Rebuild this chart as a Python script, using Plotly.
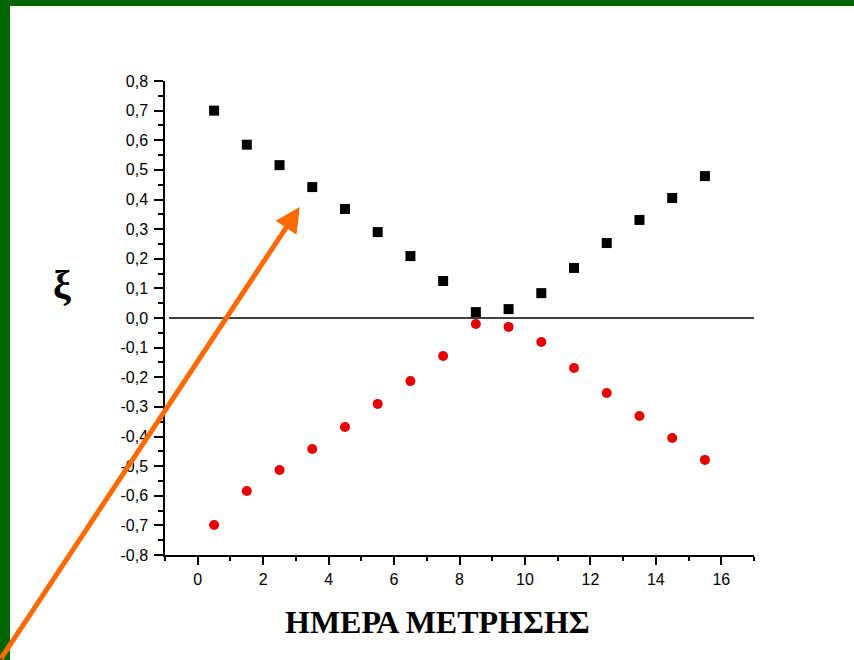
import plotly.graph_objects as go

days = [0.5, 1.5, 2.5, 3.5, 4.5, 5.5, 6.5, 7.5, 8.5, 9.5, 10.5, 11.5, 12.5, 13.5, 14.5, 15.5]
xi_pos = [0.700, 0.585, 0.516, 0.442, 0.368, 0.290, 0.209, 0.125, 0.020, 0.030, 0.084, 0.169, 0.253, 0.331, 0.405, 0.479]
xi_neg = [-0.699, -0.584, -0.513, -0.442, -0.368, -0.290, -0.213, -0.128, -0.020, -0.030, -0.081, -0.169, -0.253, -0.331, -0.405, -0.479]

y_tickvals = [-0.8, -0.7, -0.6, -0.5, -0.4, -0.3, -0.2, -0.1, 0.0, 0.1, 0.2, 0.3, 0.4, 0.5, 0.6, 0.7, 0.8]
y_ticktext = ["-0,8", "-0,7", "-0,6", "-0,5", "-0,4", "-0,3", "-0,2", "-0,1", "0,0",
              "0,1", "0,2", "0,3", "0,4", "0,5", "0,6", "0,7", "0,8"]
x_tickvals = [0, 2, 4, 6, 8, 10, 12, 14, 16]
x_ticktext = ["0", "2", "4", "6", "8", "10", "12", "14", "16"]

x_title = "ΗΜΕΡΑ ΜΕΤΡΗΣΗΣ"
y_title = "ξ"

W, H = 854, 660
L, R, T, B = 165, 100, 81, 105
pw, ph = W - L - R, H - T - B

def px_to_paper_x(px):
    return (px - L) / pw

def px_to_paper_y(py):
    return 1 + (T - py) / ph

fig = go.Figure()
fig.add_trace(go.Scatter(x=days, y=xi_pos, mode="markers",
                         marker=dict(symbol="square", size=10, color="black"),
                         showlegend=False))
fig.add_trace(go.Scatter(x=days, y=xi_neg, mode="markers",
                         marker=dict(symbol="circle", size=10, color="#e80000"),
                         showlegend=False))

serif = "Liberation Serif, Times New Roman, serif"
sans = "Liberation Sans, Arial, sans-serif"

fig.update_layout(
    width=W, height=H,
    margin=dict(l=L, r=R, t=T, b=B, pad=0),
    paper_bgcolor="white", plot_bgcolor="white",
    font=dict(family=sans, size=16, color="black"),
    xaxis=dict(range=[-1, 17], showgrid=False, zeroline=False,
               showline=True, linecolor="black", linewidth=1.5,
               ticks="outside", ticklen=8, tickwidth=1.5, tickcolor="black",
               tickmode="array", tickvals=x_tickvals, ticktext=x_ticktext,
               ticklabelstandoff=1,
               minor=dict(tickmode="linear", tick0=0, dtick=1, ticks="outside",
                          ticklen=4, tickwidth=1.5, tickcolor="black"),
               tickfont=dict(family=sans, size=16, color="black")),
    yaxis=dict(range=[-0.8, 0.8], showgrid=False, zeroline=False,
               showline=True, linecolor="black", linewidth=1.5,
               ticks="outside", ticklen=9, tickwidth=1.5, tickcolor="black",
               tickmode="array", tickvals=y_tickvals, ticktext=y_ticktext,
               ticklabelstandoff=3,
               minor=dict(tickmode="linear", tick0=0, dtick=0.05, ticks="outside",
                          ticklen=5, tickwidth=1.5, tickcolor="black"),
               tickfont=dict(family=sans, size=16, color="black")),
)

# zero reference line
fig.add_shape(type="line", xref="x", yref="y", x0=-0.88, x1=17, y0=0, y1=0,
              line=dict(color="black", width=1.5))

# green frame (left and top)
fig.add_shape(type="rect", xref="paper", yref="paper",
              x0=px_to_paper_x(0), x1=px_to_paper_x(10),
              y0=px_to_paper_y(H), y1=px_to_paper_y(0),
              fillcolor="#006400", line=dict(width=0), layer="below")
fig.add_shape(type="rect", xref="paper", yref="paper",
              x0=px_to_paper_x(0), x1=px_to_paper_x(W),
              y0=px_to_paper_y(6), y1=px_to_paper_y(0),
              fillcolor="#006400", line=dict(width=0), layer="below")

# axis titles
fig.add_annotation(text="<b>" + x_title + "</b>", xref="paper", yref="paper",
                   x=px_to_paper_x(437), y=px_to_paper_y(622),
                   showarrow=False, font=dict(family=serif, size=32, color="black"),
                   xanchor="center", yanchor="middle")
fig.add_annotation(text="<b>" + y_title + "</b>", xref="paper", yref="paper",
                   x=px_to_paper_x(62), y=px_to_paper_y(284),
                   showarrow=False, font=dict(family=serif, size=40, color="black"),
                   xanchor="center", yanchor="middle")

# orange arrow
fig.add_annotation(text="", x=3.12, y=0.375, xref="x", yref="y",
                   showarrow=True, arrowhead=2, arrowsize=1, arrowwidth=5,
                   arrowcolor="#ff6a00", ax=-312, ay=463, axref="pixel", ayref="pixel",
                   standoff=0)

fig.write_html("out.html",
               config={"displayModeBar": False},
               post_script="document.body.style.margin='0';document.body.style.padding='0';")
